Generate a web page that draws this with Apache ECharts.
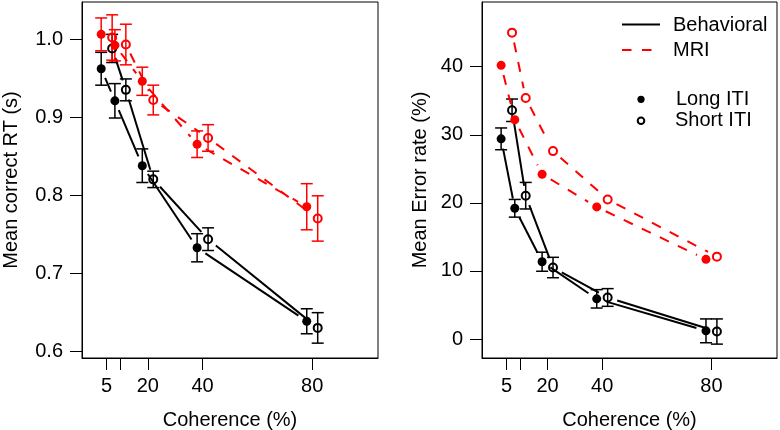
<!DOCTYPE html>
<html><head><meta charset="utf-8">
<script src="https://cdn.jsdelivr.net/npm/echarts@6/dist/echarts.min.js"></script>
<style>html,body{margin:0;padding:0;background:#fff}#c{width:780px;height:430px}</style>
</head><body><div id="c"></div>
<script>
// ---- data ----
const coherence = [5, 10, 20, 40, 80];
const xTicks = [5, 10, 20, 40, 80];
const xTickLabels = [5, 20, 40, 80];
const rtTicks = [0.6, 0.7, 0.8, 0.9, 1.0];
const errTicks = [0, 10, 20, 30, 40];
const itiJitter = 2; // Long ITI plotted at coherence-2, Short ITI at coherence+2

// Left panel: mean correct RT (s)
const rtBehLong = [0.962, 0.921, 0.838, 0.733, 0.639];
const rtBehLongSe = [0.021, 0.022, 0.0215, 0.018, 0.016];
const rtBehShort = [0.988, 0.935, 0.8205, 0.744, 0.6305];
const rtBehShortSe = [0.018, 0.014, 0.0105, 0.0145, 0.0195];
const rtMriLong = [1.006, 0.992, 0.946, 0.8655, 0.7855];
const rtMriLongSe = [0.021, 0.02, 0.018, 0.017, 0.0295];
const rtMriShort = [1.002, 0.993, 0.922, 0.8735, 0.7705];
const rtMriShortSe = [0.029, 0.026, 0.019, 0.017, 0.029];

// Right panel: mean error rate (%)
const erBehLong = [29.4, 19.2, 11.35, 5.9, 1.2];
const erBehLongSe = [1.6, 1.3, 1.4, 1.35, 1.75];
const erBehShort = [33.6, 21.05, 10.5, 6.1, 1.1];
const erBehShortSe = [1.65, 1.95, 1.5, 1.3, 1.85];
const erMriLong = [40.2, 32.2, 24.2, 19.4, 11.7];
const erMriShort = [45.0, 35.4, 27.6, 20.5, 12.1];

// ---- style ----
const FONT = '"Liberation Sans", Arial, sans-serif';
const RED = '#ff0000', BLACK = '#000000';
const GAP = 10;
const DASH = [10, 10];

const longX = coherence.map(c => c - itiJitter);
const shortX = coherence.map(c => c + itiJitter);

function segSeries(gi, x, y, color, dashed) {
  const data = [];
  for (let i = 0; i < x.length - 1; i++) data.push([x[i], y[i], x[i + 1], y[i + 1]]);
  return {
    type: 'custom', xAxisIndex: gi, yAxisIndex: gi, data: data, silent: true,
    renderItem: function (params, api) {
      const a = api.coord([api.value(0), api.value(1)]);
      const b = api.coord([api.value(2), api.value(3)]);
      const dx = b[0] - a[0], dy = b[1] - a[1], len = Math.hypot(dx, dy);
      if (len <= 2 * GAP) return null;
      const ux = dx / len, uy = dy / len;
      return {
        type: 'line',
        shape: { x1: a[0] + ux * GAP, y1: a[1] + uy * GAP, x2: b[0] - ux * GAP, y2: b[1] - uy * GAP },
        style: { stroke: color, lineWidth: 2, lineDash: dashed ? DASH : null, fill: null }
      };
    }
  };
}

function errSeries(gi, x, y, e, color) {
  const data = x.map((v, i) => [v, y[i] - e[i], y[i] + e[i]]);
  return {
    type: 'custom', xAxisIndex: gi, yAxisIndex: gi, data: data, silent: true,
    renderItem: function (params, api) {
      const lo = api.coord([api.value(0), api.value(1)]);
      const hi = api.coord([api.value(0), api.value(2)]);
      const w = 6;
      const st = { stroke: color, lineWidth: 1.5, fill: null };
      return {
        type: 'group', children: [
          { type: 'line', shape: { x1: lo[0], y1: lo[1], x2: hi[0], y2: hi[1] }, style: st },
          { type: 'line', shape: { x1: lo[0] - w, y1: lo[1], x2: lo[0] + w, y2: lo[1] }, style: st },
          { type: 'line', shape: { x1: hi[0] - w, y1: hi[1], x2: hi[0] + w, y2: hi[1] }, style: st }
        ]
      };
    }
  };
}

function ptSeries(gi, x, y, color, filled) {
  return {
    type: 'scatter', xAxisIndex: gi, yAxisIndex: gi, silent: true,
    data: x.map((v, i) => [v, y[i]]),
    symbol: 'circle', symbolSize: filled ? 9 : 8,
    itemStyle: filled ? { color: color, borderWidth: 0, opacity: 1 }
                      : { color: 'rgba(0,0,0,0)', borderColor: color, borderWidth: 2, opacity: 1 },
    emphasis: { disabled: true }
  };
}

const txt = { fontFamily: FONT, fontSize: 20, color: '#000' };

function xAxis(gi) {
  return {
    type: 'value', gridIndex: gi, min: -4, max: 104,
    name: 'Coherence (%)', nameLocation: 'middle', nameGap: 52, nameTextStyle: txt,
    axisLine: { show: true, onZero: false, lineStyle: { color: '#000', width: 1 } },
    axisTick: { show: true, length: 12, lineStyle: { color: '#000', width: 1 }, customValues: xTicks },
    axisLabel: Object.assign({ margin: 18, customValues: xTickLabels }, txt),
    splitLine: { show: false }
  };
}
function yAxis(gi, min, max, ticks, name, gap, fmt) {
  return {
    type: 'value', gridIndex: gi, min: min, max: max,
    name: name, nameLocation: 'middle', nameGap: gap, nameTextStyle: txt,
    axisLine: { show: true, onZero: false, lineStyle: { color: '#000', width: 1 } },
    axisTick: { show: true, length: 12, lineStyle: { color: '#000', width: 1 }, customValues: ticks },
    axisLabel: Object.assign({ margin: 19, customValues: ticks, formatter: fmt }, txt),
    splitLine: { show: false }
  };
}

const option = {
  animation: false,
  backgroundColor: '#fff',
  grid: [
    { left: 82, top: 2, width: 296, height: 356, show: true, borderColor: '#000', borderWidth: 1,
      backgroundColor: 'transparent', outerBoundsMode: 'none', containLabel: false },
    { left: 482, top: 2, width: 295, height: 356, show: true, borderColor: '#000', borderWidth: 1,
      backgroundColor: 'transparent', outerBoundsMode: 'none', containLabel: false }
  ],
  xAxis: [xAxis(0), xAxis(1)],
  yAxis: [
    yAxis(0, 0.592, 1.0474, rtTicks, 'Mean correct RT (s)', 61, v => v.toFixed(1)),
    yAxis(1, -2.79, 49.5, errTicks, 'Mean Error rate (%)', 52, v => String(Math.round(v)))
  ],
  series: [
    segSeries(0, longX, rtBehLong, BLACK, false),
    segSeries(0, shortX, rtBehShort, BLACK, false),
    errSeries(0, longX, rtBehLong, rtBehLongSe, BLACK),
    errSeries(0, shortX, rtBehShort, rtBehShortSe, BLACK),
    ptSeries(0, longX, rtBehLong, BLACK, true),
    ptSeries(0, shortX, rtBehShort, BLACK, false),
    segSeries(0, longX, rtMriLong, RED, true),
    segSeries(0, shortX, rtMriShort, RED, true),
    errSeries(0, longX, rtMriLong, rtMriLongSe, RED),
    errSeries(0, shortX, rtMriShort, rtMriShortSe, RED),
    ptSeries(0, longX, rtMriLong, RED, true),
    ptSeries(0, shortX, rtMriShort, RED, false),

    segSeries(1, longX, erBehLong, BLACK, false),
    segSeries(1, shortX, erBehShort, BLACK, false),
    errSeries(1, longX, erBehLong, erBehLongSe, BLACK),
    errSeries(1, shortX, erBehShort, erBehShortSe, BLACK),
    ptSeries(1, longX, erBehLong, BLACK, true),
    ptSeries(1, shortX, erBehShort, BLACK, false),
    segSeries(1, longX, erMriLong, RED, true),
    segSeries(1, shortX, erMriShort, RED, true),
    ptSeries(1, longX, erMriLong, RED, true),
    ptSeries(1, shortX, erMriShort, RED, false)
  ],
  graphic: [
    { type: 'line', shape: { x1: 622, y1: 24.5, x2: 660, y2: 24.5 }, style: { stroke: BLACK, lineWidth: 2 } },
    { type: 'line', shape: { x1: 622, y1: 50, x2: 660, y2: 50 }, style: { stroke: RED, lineWidth: 2, lineDash: [9.5, 10.5] } },
    { type: 'circle', shape: { cx: 641, cy: 99.3, r: 3.6 }, style: { fill: BLACK } },
    { type: 'circle', shape: { cx: 641, cy: 120.7, r: 3.3 }, style: { fill: 'none', stroke: BLACK, lineWidth: 2 } },
    { type: 'text', x: 673, y: 25.5, style: { text: 'Behavioral', fontFamily: FONT, fontSize: 20, fill: '#000', verticalAlign: 'middle' } },
    { type: 'text', x: 673, y: 50.7, style: { text: 'MRI', fontFamily: FONT, fontSize: 20, fill: '#000', verticalAlign: 'middle' } },
    { type: 'text', x: 676, y: 99.2, style: { text: 'Long ITI', fontFamily: FONT, fontSize: 20, fill: '#000', verticalAlign: 'middle' } },
    { type: 'text', x: 675, y: 120.8, style: { text: 'Short ITI', fontFamily: FONT, fontSize: 20, fill: '#000', verticalAlign: 'middle' } }
  ]
};

const chart = echarts.init(document.getElementById('c'), null, { renderer: 'canvas' });
chart.setOption(option);
</script>
</body></html>
